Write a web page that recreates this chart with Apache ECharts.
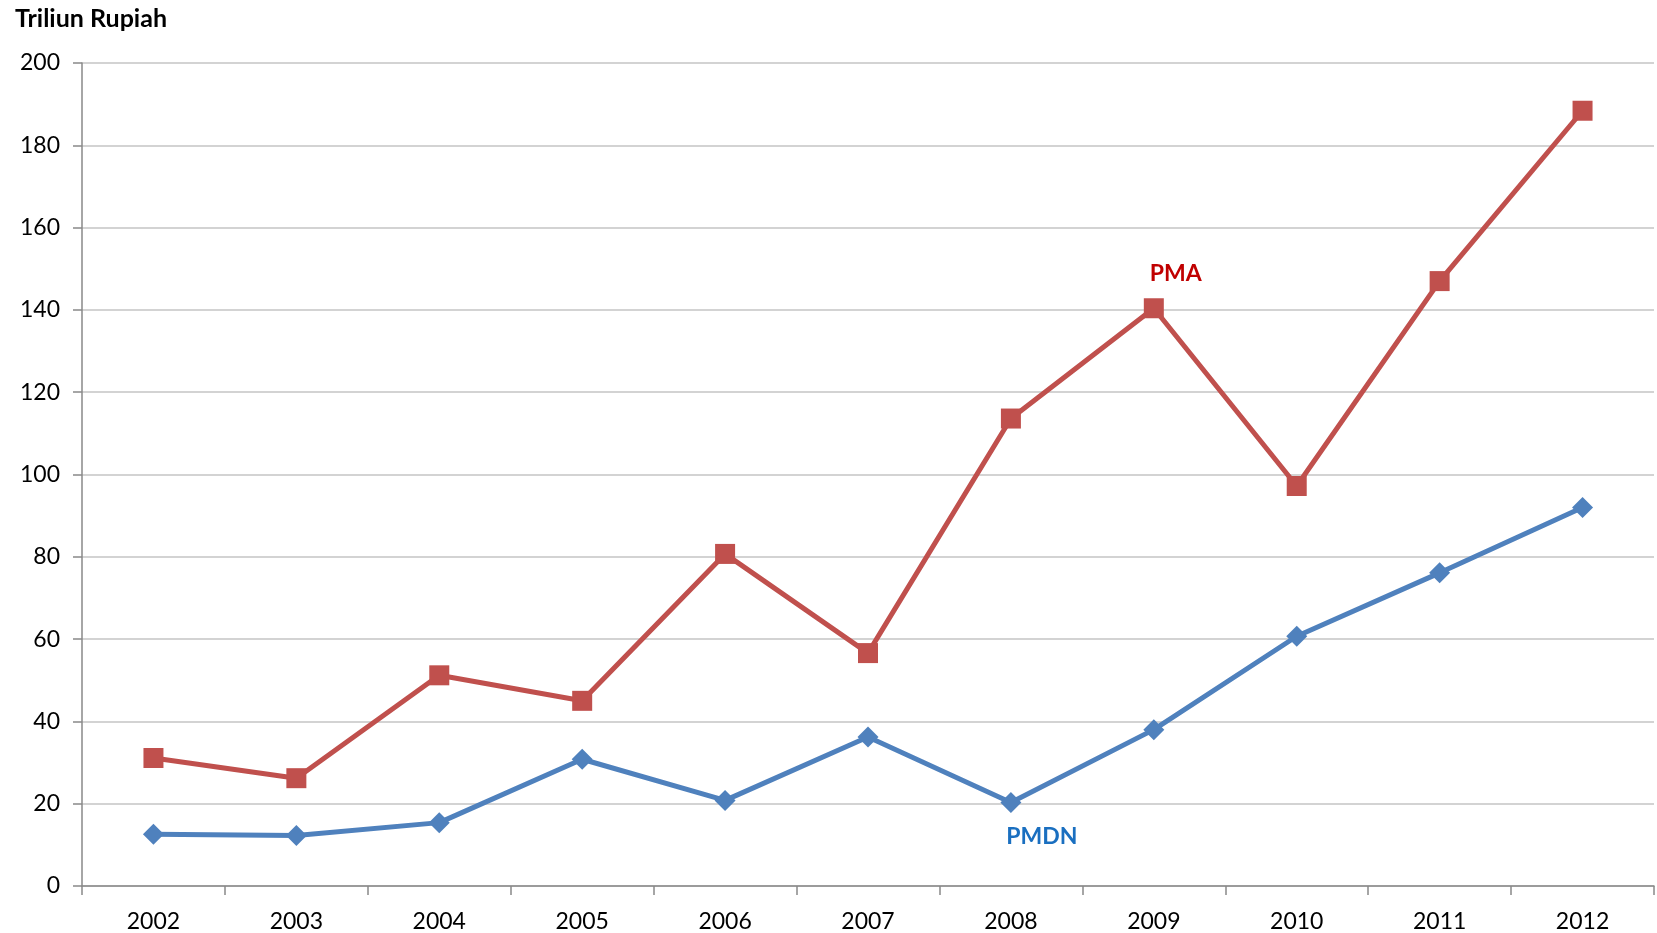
<!DOCTYPE html>
<html>
<head>
<meta charset="utf-8">
<script src="https://cdn.jsdelivr.net/npm/echarts@6/dist/echarts.min.js"></script>
<style>html,body{margin:0;padding:0;background:#fff;}#c{width:1657px;height:933px;}</style>
</head>
<body>
<div id="c"></div>
<script>
const years = ['2002','2003','2004','2005','2006','2007','2008','2009','2010','2011','2012'];
const pma  = [31.1, 26.2, 51.2, 45.0, 80.7, 56.6, 113.6, 140.4, 97.2, 147.0, 188.4];
const pmdn = [12.6, 12.3, 15.4, 30.8, 20.8, 36.2, 20.3, 38.0, 60.7, 76.1, 92.0];
const yTicks = [0, 20, 40, 60, 80, 100, 120, 140, 160, 180, 200];
const unitLabel = 'Triliun Rupiah';
const pmaLabelYear = '2009';
const pmdnLabelYear = '2008';

const font = 'Lato, "Open Sans", sans-serif';

function withLabel(arr, year, text, opts) {
  return arr.map((v, i) => years[i] === year
    ? { value: v, label: Object.assign({ show: true, formatter: text, fontFamily: font, fontWeight: 'bold', fontSize: 23 }, opts) }
    : v);
}

const chart = echarts.init(document.getElementById('c'));
chart.setOption({
  animation: false,
  backgroundColor: '#fff',
  title: {
    text: unitLabel, left: 10, top: 1,
    textStyle: { fontFamily: font, fontWeight: 'bold', fontSize: 25, color: '#000' }
  },
  grid: { left: 82, right: 3, top: 63, bottom: 47, containLabel: false },
  xAxis: {
    type: 'category', data: years, boundaryGap: true,
    axisLine: { lineStyle: { color: '#898989', width: 1.5 } },
    axisTick: { show: true, length: 9, inside: false, alignWithLabel: false, lineStyle: { color: '#898989', width: 1.5 } },
    axisLabel: { fontFamily: font, fontSize: 23, color: '#000', margin: 24 },
    splitLine: { show: false }
  },
  yAxis: {
    type: 'value', min: yTicks[0], max: yTicks[yTicks.length - 1], interval: 20,
    axisLine: { show: true, lineStyle: { color: '#898989', width: 1.5 } },
    axisTick: { show: true, length: 9, lineStyle: { color: '#898989', width: 1.5 } },
    axisLabel: { fontFamily: font, fontSize: 23, color: '#000', margin: 22 },
    splitLine: { lineStyle: { color: '#C4C4C4', width: 1.5 } }
  },
  series: [
    {
      name: 'PMA', type: 'line',
      data: withLabel(pma, pmaLabelYear, 'PMA', { color: '#C00000', position: 'top', distance: 13.5, offset: [22, 0] }),
      symbol: 'rect', symbolSize: 20,
      lineStyle: { color: '#C0504D', width: 5 },
      itemStyle: { color: '#C0504D' },
      label: { show: false },
      z: 3
    },
    {
      name: 'PMDN', type: 'line',
      data: withLabel(pmdn, pmdnLabelYear, 'PMDN', { color: '#1A6FC0', position: 'bottom', distance: 12, offset: [31, 0] }),
      symbol: 'diamond', symbolSize: 21,
      lineStyle: { color: '#4F81BD', width: 5 },
      itemStyle: { color: '#4F81BD' },
      label: { show: false },
      z: 3
    }
  ]
});
</script>
</body>
</html>
